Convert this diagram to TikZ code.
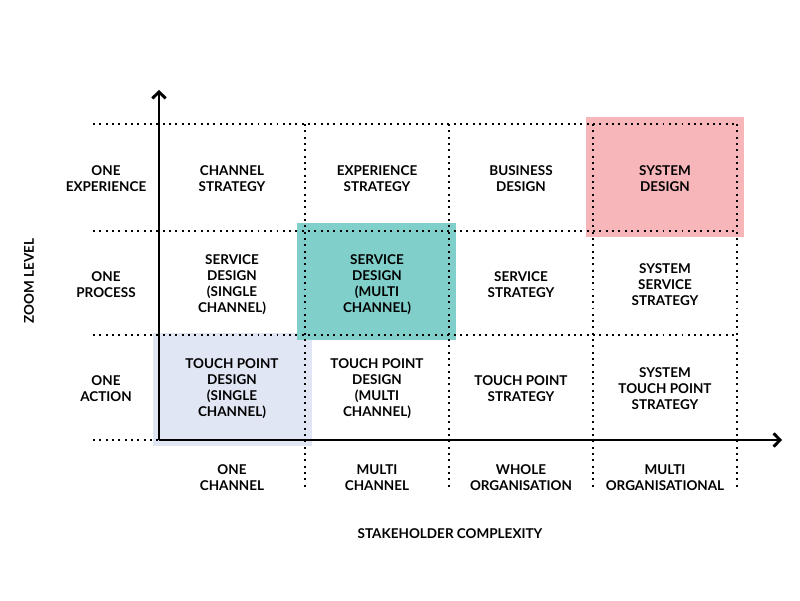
\documentclass[tikz,border=0pt]{standalone}
\usepackage{fontspec}
\setmainfont{Lato}
\usepackage{tikz}
\usetikzlibrary{arrows.meta}

\definecolor{pinkbox}{HTML}{F7B7BA}
\definecolor{tealbox}{HTML}{80CFCB}
\definecolor{lavbox}{HTML}{E1E6F4}

\tikzset{
        cell/.style={align=center, inner sep=0pt, font=\fontsize{9.6}{11.4}\selectfont\bfseries},
        gridline/.style={line width=1.4pt, dash pattern=on 1.4pt off 3.1pt},
        axis/.style={line width=2.1pt, -{Straight Barb[length=4.5pt,width=9.5pt,line width=2.1pt]}},
}

\begin{document}
\begin{tikzpicture}[x=0.025cm, y=0.025cm]
        \useasboundingbox (0,0) rectangle (800,600);

        \fill[lavbox] (153,154) rectangle (312,267);
        \fill[tealbox] (297,260) rectangle (456,377);
        \fill[pinkbox] (586,363) rectangle (744,483);

        \foreach \y in {476,369,265,160}
                \draw[gridline] (93,\y) -- (737,\y);
        \foreach \x in {305,449,593,737}
                \draw[gridline] (\x,476) -- (\x,112);

        \coordinate (o) at (159,160);
        \coordinate (ytop) at (159,510);
        \coordinate (xend) at (782,160);
        \draw[axis] (o) -- (ytop);
        \draw[axis] (o) -- (xend);

        \node[cell] (exp) at (106,421) {ONE\\EXPERIENCE};
        \node[cell] (proc) at (106,315) {ONE\\PROCESS};
        \node[cell] (act) at (106,211) {ONE\\ACTION};

        \node[cell] (chstrat) at (232,421) {CHANNEL\\STRATEGY};
        \node[cell] (expstrat) at (377,421) {EXPERIENCE\\STRATEGY};
        \node[cell] (busdes) at (521,421) {BUSINESS\\DESIGN};
        \node[cell] (sysdes) at (665,421) {SYSTEM\\DESIGN};

        \node[cell] (sdsingle) at (232,315) {SERVICE\\DESIGN\\(SINGLE\\CHANNEL)};
        \node[cell] (sdmulti) at (377,315) {SERVICE\\DESIGN\\(MULTI\\CHANNEL)};
        \node[cell] (sstrat) at (521,315) {SERVICE\\STRATEGY};
        \node[cell] (syssstrat) at (665,315) {SYSTEM\\SERVICE\\STRATEGY};

        \node[cell] (tpsingle) at (232,211) {TOUCH POINT\\DESIGN\\(SINGLE\\CHANNEL)};
        \node[cell] (tpmulti) at (377,211) {TOUCH POINT\\DESIGN\\(MULTI\\CHANNEL)};
        \node[cell] (tpstrat) at (521,211) {TOUCH POINT\\STRATEGY};
        \node[cell] (systpstrat) at (665,211) {SYSTEM\\TOUCH POINT\\STRATEGY};

        \node[cell] (onech) at (232,122) {ONE\\CHANNEL};
        \node[cell] (multich) at (377,122) {MULTI\\CHANNEL};
        \node[cell] (wholeorg) at (521,122) {WHOLE\\ORGANISATION};
        \node[cell] (multiorg) at (665,122) {MULTI\\ORGANISATIONAL};

        \node[cell] (xlabel) at (450,66) {STAKEHOLDER COMPLEXITY};
        \node[cell, rotate=90] (ylabel) at (29,319) {ZOOM LEVEL};
\end{tikzpicture}
\end{document}
